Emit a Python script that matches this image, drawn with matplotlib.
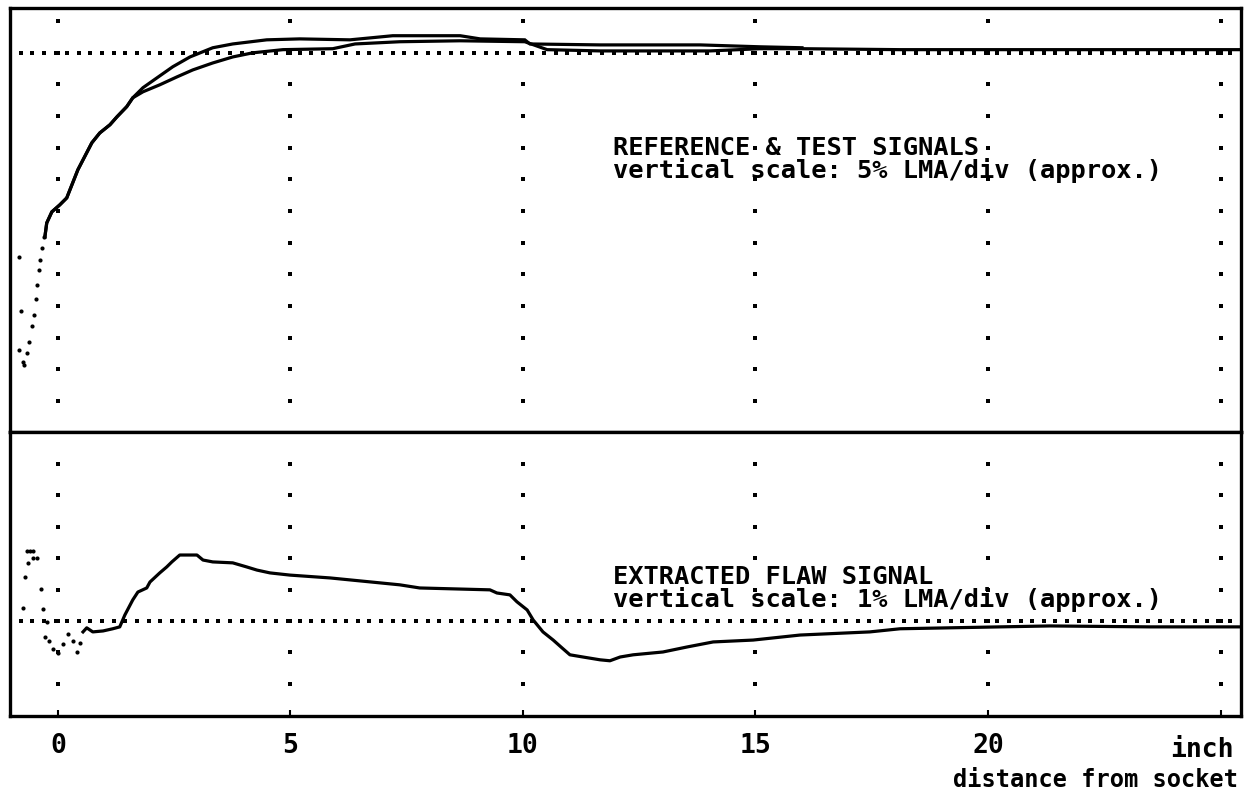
import numpy as np
import matplotlib
matplotlib.use("Agg")
import matplotlib.pyplot as plt

# ---------------- data (x: inch from socket, y: vertical divisions) ----------------
lead_x = [-0.73, -0.75, -0.67, -0.62, -0.56, -0.52, -0.47, -0.45, -0.41, -0.39, -0.34, -0.30,
          -0.84, -0.79, -0.84]
lead_y = [-9.86, -9.77, -9.48, -9.13, -8.63, -8.28, -7.78, -7.33, -6.86, -6.54, -6.17, -5.82,
          -6.44, -8.16, -9.38]

ref_x = [-0.28, -0.24, -0.13, 0.04, 0.19, 0.43, 0.73, 0.90, 1.12, 1.27, 1.48, 1.61,
         1.83, 2.13, 2.47, 2.84, 3.33, 3.76, 4.49, 5.20, 6.28, 7.20, 8.65, 9.08, 10.04,
         10.15, 11.66, 13.81, 15.10, 16.0]
ref_y = [-5.82, -5.38, -5.03, -4.81, -4.59, -3.70, -2.85, -2.54, -2.28, -2.03, -1.71, -1.43,
         -1.11, -0.80, -0.45, -0.14, 0.15, 0.27, 0.40, 0.43, 0.40, 0.53, 0.53, 0.43, 0.40,
         0.27, 0.24, 0.24, 0.18, 0.15]

test_x = [-0.28, -0.24, -0.13, 0.04, 0.19, 0.43, 0.73, 0.90, 1.12, 1.27, 1.48, 1.61,
          1.83, 2.19, 2.56, 2.90, 3.33, 3.76, 4.19, 4.84, 5.91, 6.39, 7.35, 8.65, 10.04,
          10.52, 11.66, 14.02, 15.10, 16.0, 18.11, 20.26, 22.41, 25.42]
test_y = [-5.82, -5.38, -5.03, -4.81, -4.59, -3.70, -2.85, -2.54, -2.28, -2.03, -1.71, -1.43,
          -1.24, -1.02, -0.77, -0.55, -0.33, -0.14, -0.01, 0.09, 0.12, 0.27, 0.34, 0.37, 0.34,
          0.09, 0.05, 0.05, 0.12, 0.12, 0.09, 0.09, 0.09, 0.09]

flaw_lead_x = [-0.67, -0.60, -0.54, -0.65, -0.54, -0.45, -0.71, -0.37, -0.75, -0.32, -0.24,
               -0.28, -0.19, -0.11, 0.00, 0.11, 0.22, 0.32, 0.41, 0.47]
flaw_lead_y = [2.23, 2.23, 2.23, 1.85, 2.01, 2.01, 1.40, 1.02, 0.41, 0.38, -0.03,
               -0.51, -0.64, -0.89, -1.02, -0.73, -0.41, -0.64, -0.99, -0.70]

flaw_x = [0.54, 0.62, 0.75, 0.97, 1.18, 1.33, 1.44, 1.61, 1.72, 1.91, 1.98, 2.19, 2.34,
          2.45, 2.62, 2.99, 3.12, 3.33, 3.76, 4.06, 4.28, 4.56, 4.99, 5.85, 7.35, 7.78,
          9.29, 9.44, 9.72, 9.87, 10.09, 10.22, 10.43, 10.65, 10.84, 11.01, 11.29, 11.66,
          11.87, 12.09, 12.37, 13.01, 13.53, 14.09, 14.95, 15.96, 17.46, 18.11, 21.33,
          23.48, 25.42]
flaw_y = [-0.35, -0.22, -0.35, -0.32, -0.25, -0.19, 0.19, 0.67, 0.92, 1.05, 1.24, 1.53, 1.72,
          1.88, 2.10, 2.10, 1.94, 1.88, 1.85, 1.72, 1.62, 1.53, 1.46, 1.37, 1.15, 1.05,
          0.99, 0.89, 0.83, 0.61, 0.35, 0.03, -0.35, -0.61, -0.86, -1.08, -1.15, -1.24,
          -1.27, -1.15, -1.08, -0.99, -0.83, -0.67, -0.61, -0.45, -0.35, -0.25, -0.16,
          -0.19, -0.19]

tick_pos = [0, 5, 10, 15, 20]
tick_labels = ["0", "5", "10", "15", "20"]
grid_cols = [0, 5, 10, 15, 20, 25]
top_levels = list(range(-11, 2))
bot_levels = list(range(-2, 6))

# ---------------- figure ----------------
W, H = 1251, 800
fig = plt.figure(figsize=(W / 100, H / 100), dpi=100)
fig.patch.set_facecolor("white")

def fx(px):
    return px / W

def fy(py):
    return 1 - py / H

ax1 = fig.add_axes([fx(10), fy(432), fx(1231), 424 / H])
ax2 = fig.add_axes([fx(10), fy(716), fx(1231), 284 / H])

XL = (-1.03, 25.44)
ax1.set_xlim(*XL)
ax1.set_ylim(-11.98, 1.405)
ax2.set_xlim(*XL)
ax2.set_ylim(-3.03, 6.02)

FONT = "DejaVu Sans Mono"
FS = 18.3
for ax in (ax1, ax2):
    for s in ax.spines.values():
        s.set_linewidth(2.4)
        s.set_color("black")
    ax.set_yticks([])

ax1.set_xticks([])
ax2.set_xticks(tick_pos + [25])
ax2.set_xticklabels(tick_labels + [""], fontfamily=FONT, fontweight="bold", fontsize=19)
ax2.tick_params(axis="x", direction="in", length=4, width=1.5, pad=12)

# grid dots
dot = dict(linestyle="none", marker="s", markersize=2.2, color="black", markeredgewidth=0)
for c in grid_cols:
    ax1.plot([c] * len(top_levels), top_levels, **dot)
    ax2.plot([c] * len(bot_levels), bot_levels, **dot)
hx = np.arange(-0.8, 25.4, 0.25)
ax1.plot(hx, np.zeros_like(hx), **dot)
ax2.plot(hx, np.zeros_like(hx), **dot)

# traces
ax1.plot(lead_x, lead_y, linestyle="none", marker="o", markersize=3, color="black", markeredgewidth=0)
ax1.plot(ref_x, ref_y, color="black", lw=2.3, solid_joinstyle="miter")
ax1.plot(test_x, test_y, color="black", lw=2.3, solid_joinstyle="miter")

ax2.plot(flaw_lead_x, flaw_lead_y, linestyle="none", marker="o", markersize=3, color="black", markeredgewidth=0)
ax2.plot(flaw_x, flaw_y, color="black", lw=2.3)

# annotations
tk = dict(fontfamily=FONT, fontweight="bold", fontsize=FS, color="black", ha="left",
          va="top", linespacing=0.88)
fig.text(fx(613), fy(136), "REFERENCE & TEST SIGNALS\nvertical scale: 5% LMA/div (approx.)", **tk)
fig.text(fx(613), fy(565), "EXTRACTED FLAW SIGNAL\nvertical scale: 1% LMA/div (approx.)", **tk)

fig.text(fx(1234), fy(757), "inch", fontfamily=FONT, fontweight="bold", fontsize=19,
         ha="right", va="baseline")
fig.text(fx(1238), fy(787), "distance from socket", fontfamily=FONT, fontweight="bold",
         fontsize=17, ha="right", va="baseline")

fig.savefig("out.png", dpi=100)
